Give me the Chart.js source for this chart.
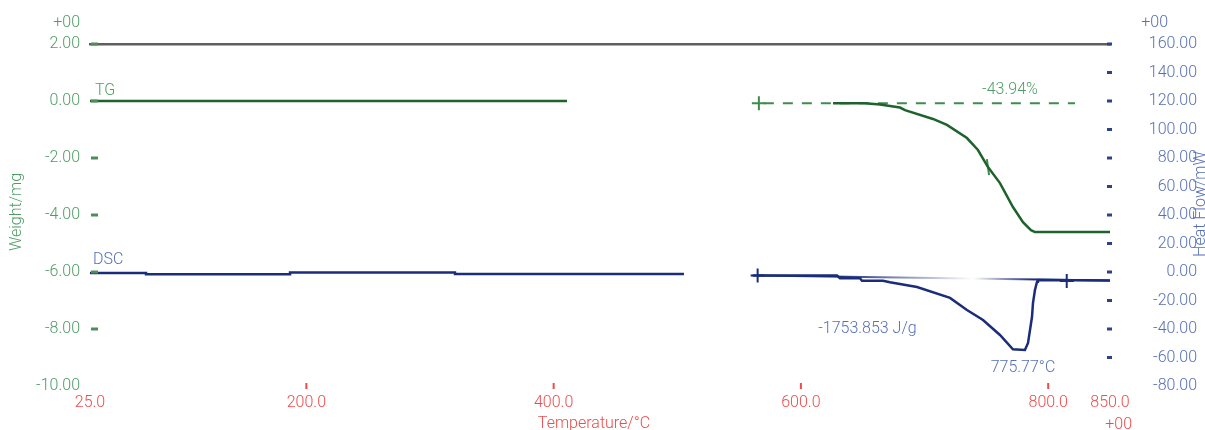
<!DOCTYPE html>
<html><head><meta charset="utf-8">
<script src="https://cdn.jsdelivr.net/npm/chart.js@4.4.1/dist/chart.umd.min.js"></script>
<style>html,body{margin:0;padding:0;background:#fff;overflow:hidden}</style>
</head><body>
<canvas id="c" width="1205" height="430"></canvas>
<script>
// ---- tick labels ----
const xTicks = [25, 200, 400, 600, 800, 850];
const weightTicks = [2, 0, -2, -4, -6, -8, -10];
const heatTicks = [160, 140, 120, 100, 80, 60, 40, 20, 0, -20, -40, -60, -80];

// ---- TG (Weight/mg) ----
const tgTempA = [25, 410.8];
const tgWeightA = [0, 0];
const tgTempB = [626.0, 651.8, 664.0, 680.1, 684.2, 706.8, 718.1, 734.3, 743.2, 751.3, 761.0, 771.5, 779.6, 786.1, 789.3, 850];
const tgWeightB = [-0.08, -0.08, -0.12, -0.23, -0.32, -0.63, -0.84, -1.30, -1.72, -2.32, -2.88, -3.72, -4.25, -4.53, -4.60, -4.60];
const tgStepTemp = [566, 821.7];
const tgStepWeight = [-0.08, -0.08];
const tgMarkTemp = [566];
const tgMarkWeight = [-0.08];
const tgInflectTemp = [751.3];
const tgInflectWeight = [-2.32];

// ---- DSC (Heat Flow/mW) ----
const dscTempA = [25, 70.3, 186.8, 320.2, 505.4];
const dscHeatA = [-0.7, -1.6, -0.35, -1.4, -1.4];
const dscTempB = [561, 629.2, 631.6, 647.8, 649.4, 666.4, 672.0, 693.9, 720.6, 734.3, 747.3, 761.0, 771.5, 781.2, 783.7, 786.9, 787.7, 789.3, 791.0, 791.7, 850];
const dscHeatB = [-2.5, -2.5, -4.4, -4.4, -6.1, -6.1, -7.2, -10.5, -18.2, -26.7, -33.7, -44.2, -54.2, -54.7, -49.8, -31.6, -21.8, -12.6, -6.8, -5.6, -6.0];
const dscBaseTemp = [565, 850];
const dscBaseHeat = [-2.5, -6.0];
const dscMarkTemp = [565, 815];
const dscMarkHeat = [-2.5, -6.3];
const baseFadeTemp = [629, 739, 788];

// ---- annotations ----
const notes = [
  {text: 'TG', x: 29, y: 0.35, axis: 'yW', color: 'g', align: 'left'},
  {text: 'DSC', x: 27.4, y: 8.1, axis: 'yH', color: 'b', align: 'left'},
  {text: '-43.94%', x: 769.1, y: 0.39, axis: 'yW', color: 'g', align: 'center'},
  {text: '-1753.853 J/g', x: 653.8, y: -40, axis: 'yH', color: 'b', align: 'center'},
  {text: '775.77°C', x: 779.6, y: -67.4, axis: 'yH', color: 'b', align: 'center'}
];

const C_TG = '#1d632b';
const C_TG2 = '#3e8c4e';
const C_DSC = '#1a2c7a';
const C_GT = '#4f9c66';
const C_BT = '#5670b8';
const C_RT = '#ef4b4b';
const FONT = {family: 'Roboto', size: 16, weight: '300'};
const CFONT = '300 16px Roboto';

const pts = (xs, ys) => xs.map((x, i) => ({x: x, y: ys[i]}));

const decor = {
  id: 'decor',
  afterDatasetsDraw(chart) {
    const ctx = chart.ctx, a = chart.chartArea;
    const xs = chart.scales.x, yW = chart.scales.yW, yH = chart.scales.yH;
    ctx.save();
    // tick marks
    ctx.lineWidth = 3; ctx.strokeStyle = '#4a8f58';
    weightTicks.forEach(v => { if (v === -10) return; const y = yW.getPixelForValue(v);
      ctx.beginPath(); ctx.moveTo(a.left + 1, y); ctx.lineTo(a.left + 8, y); ctx.stroke(); });
    ctx.strokeStyle = '#2e418c';
    heatTicks.forEach(v => { if (v === -80) return; const y = yH.getPixelForValue(v);
      ctx.beginPath(); ctx.moveTo(a.right - 3, y); ctx.lineTo(a.right + 2, y); ctx.stroke(); });
    ctx.lineWidth = 2; ctx.strokeStyle = C_RT;
    xTicks.forEach(v => { if (v === 25 || v === 850) return; const x = xs.getPixelForValue(v);
      ctx.beginPath(); ctx.moveTo(x, a.bottom - 3); ctx.lineTo(x, a.bottom + 3); ctx.stroke(); });
    // annotations
    ctx.font = CFONT;
    ctx.textBaseline = 'middle';
    notes.forEach(n => {
      ctx.fillStyle = n.color === 'g' ? C_GT : C_BT;
      ctx.textAlign = n.align;
      ctx.fillText(n.text, xs.getPixelForValue(n.x), chart.scales[n.axis].getPixelForValue(n.y));
    });
    // exponent markers
    ctx.textAlign = 'right';
    ctx.fillStyle = C_GT; ctx.fillText('+00', a.left - 10, 23);
    ctx.fillStyle = C_BT; ctx.fillText('+00', a.right + 58, 23);
    ctx.fillStyle = C_RT; ctx.fillText('+00', a.right + 22, 425);
    // axis titles
    ctx.textAlign = 'center';
    ctx.fillStyle = C_RT; ctx.fillText('Temperature/°C', (a.left + a.right) / 2 - 6, 424);
    ctx.save(); ctx.translate(17, 212); ctx.rotate(-Math.PI / 2);
    ctx.fillStyle = C_GT; ctx.fillText('Weight/mg', 0, 0); ctx.restore();
    ctx.save(); ctx.translate(1201, 204); ctx.rotate(-Math.PI / 2);
    ctx.fillStyle = C_BT; ctx.fillText('Heat Flow/mW', 0, 0); ctx.restore();
    ctx.restore();
  }
};

const baseColor = (c) => {
  const chart = c.chart;
  if (!chart.chartArea || !chart.scales.x) return C_DSC;
  const xs = chart.scales.x;
  const x0 = xs.getPixelForValue(baseFadeTemp[0]);
  const x1 = xs.getPixelForValue(baseFadeTemp[2]);
  const xm = xs.getPixelForValue(baseFadeTemp[1]);
  const g = chart.ctx.createLinearGradient(x0, 0, x1, 0);
  g.addColorStop(0, C_DSC);
  g.addColorStop((xm - x0) / (x1 - x0), 'rgba(255,255,255,1)');
  g.addColorStop(1, C_DSC);
  return g;
};

new Chart(document.getElementById('c'), {
  type: 'line',
  data: {
    datasets: [
      {data: pts(tgTempA, tgWeightA), yAxisID: 'yW', borderColor: C_TG, borderWidth: 2.5, pointRadius: 0},
      {data: pts(tgTempB, tgWeightB), yAxisID: 'yW', borderColor: C_TG, borderWidth: 2.5, pointRadius: 0},
      {data: pts(tgStepTemp, tgStepWeight), yAxisID: 'yW', borderColor: C_TG2, borderWidth: 2, borderDash: [10, 9], borderDashOffset: -5, pointRadius: 0},
      {data: pts(tgMarkTemp, tgMarkWeight), yAxisID: 'yW', showLine: false, pointStyle: 'cross', pointRadius: 7, pointBorderWidth: 2, pointBorderColor: C_TG2},
      {data: pts(tgInflectTemp, tgInflectWeight), yAxisID: 'yW', showLine: false, pointStyle: 'line', rotation: 82, pointRadius: 8, pointBorderWidth: 2, pointBorderColor: C_TG2},
      {data: pts(dscTempA, dscHeatA), yAxisID: 'yH', stepped: 'before', borderColor: C_DSC, borderWidth: 2.5, pointRadius: 0},
      {data: pts(dscTempB, dscHeatB), yAxisID: 'yH', borderColor: C_DSC, borderWidth: 2.5, pointRadius: 0},
      {data: pts(dscBaseTemp, dscBaseHeat), yAxisID: 'yH', borderColor: baseColor, borderWidth: 2, pointRadius: 0},
      {data: pts(dscMarkTemp, dscMarkHeat), yAxisID: 'yH', showLine: false, pointStyle: 'cross', pointRadius: 7, pointBorderWidth: 2, pointBorderColor: C_DSC}
    ]
  },
  options: {
    responsive: false,
    animation: false,
    events: [],
    layout: {padding: {top: 44, left: 0, right: 8, bottom: 0}},
    plugins: {legend: {display: false}, tooltip: {enabled: false}, title: {display: false}},
    scales: {
      x: {
        type: 'linear', position: 'bottom', min: 25, max: 850,
        afterFit: s => { s.height = 44; },
        afterBuildTicks: s => { s.ticks = xTicks.map(v => ({value: v})); },
        grid: {display: false, drawTicks: false}, border: {display: false},
        ticks: {color: C_RT, font: FONT, padding: 7, autoSkip: false, maxRotation: 0, callback: v => Number(v).toFixed(1)}
      },
      xTop: {
        type: 'linear', position: 'top', min: 25, max: 850,
        afterFit: s => { s.height = 0; },
        ticks: {display: false}, grid: {display: false, drawTicks: false},
        border: {display: true, color: '#5e5e5e', width: 2.5}
      },
      yW: {
        type: 'linear', position: 'left', min: -10, max: 2,
        afterFit: s => { s.width = 90; },
        afterBuildTicks: s => { s.ticks = weightTicks.map(v => ({value: v})); },
        grid: {display: false, drawTicks: false}, border: {display: false},
        ticks: {color: C_GT, font: FONT, padding: 10, callback: v => Number(v).toFixed(2)}
      },
      yH: {
        type: 'linear', position: 'right', min: -80, max: 160,
        afterFit: s => { s.width = 87; },
        afterBuildTicks: s => { s.ticks = heatTicks.map(v => ({value: v})); },
        grid: {display: false, drawTicks: false}, border: {display: false},
        ticks: {color: C_BT, font: FONT, padding: 2, crossAlign: 'far', callback: v => Number(v).toFixed(2)}
      }
    }
  },
  plugins: [decor]
});
</script>
</body></html>
